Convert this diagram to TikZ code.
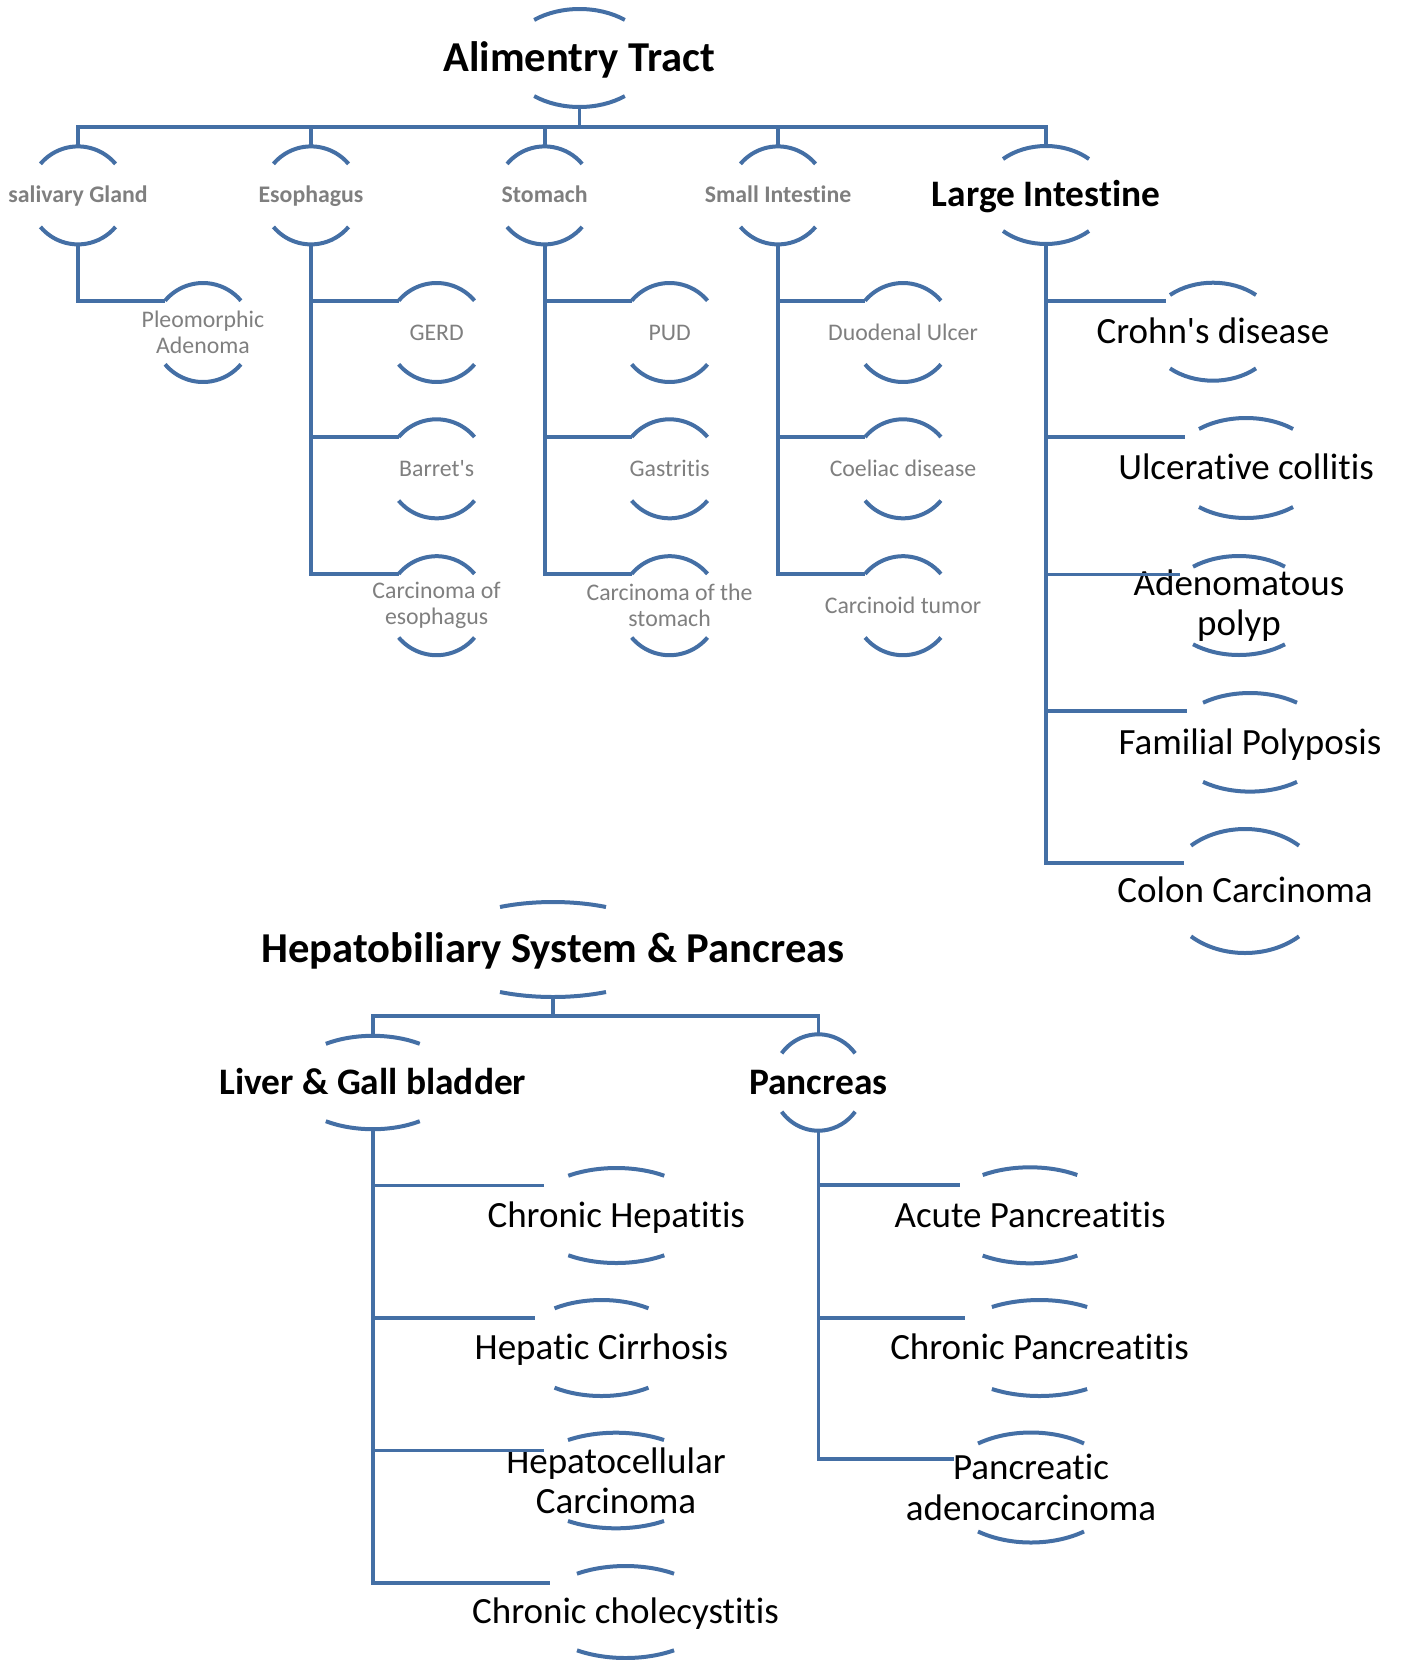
\documentclass[tikz,border=0pt]{standalone}
\usepackage{fontspec}
\setmainfont{Carlito}[Ligatures=NoCommon]
\definecolor{linkblue}{RGB}{68,111,165}
\definecolor{leafgray}{RGB}{127,127,127}
\tikzset{
  link/.style={draw=linkblue,line width=1.9pt},
  arcline/.style={draw=linkblue,line width=2pt},
  head/.style={inner sep=0,text height=13.46pt,text depth=0pt,font=\fontsize{21.3}{23}\selectfont\bfseries},
  big/.style={inner sep=0,text height=11.82pt,text depth=0pt,font=\fontsize{18.7}{20.5}\selectfont\bfseries},
  sub/.style={inner sep=0,text height=7.52pt,text depth=0pt,text=leafgray,font=\fontsize{11.9}{13}\selectfont\bfseries},
  leaf/.style={inner sep=0,text height=7.52pt,text depth=0pt,text=leafgray,font=\fontsize{11.9}{13}\selectfont},
  leaftwo/.style={inner sep=0,align=center,text=leafgray,font=\fontsize{11.9}{13}\selectfont},
  item/.style={inner sep=0,text height=11.69pt,text depth=0pt,font=\fontsize{18.5}{20.2}\selectfont},
  itemtwo/.style={inner sep=0,align=center,font=\fontsize{18.5}{20.2}\selectfont},
}
% #2 node, #3/#4 radii, #5 half span, #6 and #1 entry offsets
\newcommand{\brk}[6][31]{%
  \draw[arcline] ([shift={(90+#5:#3 and #4)}]#2.center) arc[start angle=90+#5,end angle=90-#5,x radius=#3,y radius=#4];
  \draw[arcline] ([shift={(270-#5:#3 and #4)}]#2.center) arc[start angle=270-#5,end angle=270+#5,x radius=#3,y radius=#4];
  \coordinate (#2-top) at ([shift={(0,#4)}]#2.center);
  \coordinate (#2-bot) at ([shift={(0,-#4)}]#2.center);
  \coordinate (#2-in) at ([shift={(-#6,#1)}]#2.center);
}

\begin{document}
\begin{tikzpicture}[x=0.5pt,y=0.5pt]
\useasboundingbox (0,0) rectangle (1402,-1660);

\node (tract) [head] at (579.5,-58) {Alimentry Tract};
\node (sal) [sub] at (78,-195.4) {salivary Gland};
\node (esoph) [sub] at (311,-195.4) {Esophagus};
\node (stom) [sub] at (544.6,-195.4) {Stomach};
\node (smallint) [sub] at (778,-195.4) {Small Intestine};
\node (largeint) [big] at (1046,-195) {Large Intestine};

\node (pleo) [leaftwo] at (203,-332.5) {Pleomorphic\\Adenoma};
\node (gerd) [leaf] at (436.6,-332.5) {GERD};
\node (barret) [leaf] at (436.6,-468.8) {Barret\textquotesingle s};
\node (carcesoph) [leaftwo] at (436.6,-605.7) {Carcinoma of\\esophagus};
\node (pud) [leaf] at (669.6,-332.5) {PUD};
\node (gastr) [leaf] at (669.6,-468.8) {Gastritis};
\node (carcstom) [leaftwo] at (669.6,-605.7) {Carcinoma of the\\stomach};
\node (duod) [leaf] at (903,-332.5) {Duodenal Ulcer};
\node (coeliac) [leaf] at (903,-468.8) {Coeliac disease};
\node (carcinoid) [leaf] at (903,-605.7) {Carcinoid tumor};

\node (crohn) [item] at (1213,-331.7) {Crohn\textquotesingle s disease};
\node (ulc) [item] at (1246,-468) {Ulcerative collitis};
\node (aden) [itemtwo] at (1239,-605.5) {Adenomatous\\polyp};
\node (famil) [item] at (1250,-742.3) {Familial Polyposis};
\node (colon) [item] at (1245,-891) {Colon Carcinoma};

\node (hepato) [head] at (553,-949.5) {Hepatobiliary System \& Pancreas};
\node (liver) [big] at (372.8,-1082.5) {Liver \& Gall bladder};
\node (panc) [big] at (818.4,-1082.5) {Pancreas};

\node (chrhep) [item] at (616.3,-1215.5) {Chronic Hepatitis};
\node (cirr) [item] at (601.5,-1348) {Hepatic Cirrhosis};
\node (hcc) [itemtwo] at (616,-1480.5) {Hepatocellular\\Carcinoma};
\node (chol) [item] at (625.5,-1612) {Chronic cholecystitis};
\node (acute) [item] at (1030,-1215.3) {Acute Pancreatitis};
\node (chrpanc) [item] at (1039.5,-1348) {Chronic Pancreatitis};
\node (adeno) [itemtwo] at (1031,-1487.5) {Pancreatic\\adenocarcinoma};

\brk{tract}{72}{49}{39}{0}
\foreach \n in {sal,esoph,stom,smallint} {\brk{\n}{49}{49}{50}{0}}
\brk{largeint}{63.4}{49}{42.7}{0}
\foreach \n in {pleo,gerd,barret,carcesoph,pud,gastr,carcstom,duod,coeliac,carcinoid} {\brk[31.8]{\n}{49.5}{49.5}{50}{37.9}}
\brk{crohn}{64.9}{49}{41.5}{47.5}
\brk{ulc}{75.2}{50}{38.7}{61}
\brk{aden}{74}{49.5}{38.4}{59}
\brk{famil}{78.8}{49.3}{36.6}{63}
\brk[28]{colon}{79.2}{62}{43}{61}
\brk{hepato}{118.8}{47.5}{26.5}{0}
\brk{liver}{84}{46.7}{34}{0}
\brk{panc}{46.2}{48.2}{52.7}{0}
\brk[30]{chrhep}{87.9}{47.5}{33.1}{72.4}
\brk[30]{cirr}{83.6}{48}{34.2}{66.3}
\brk[30]{hcc}{90.4}{47.8}{32.1}{72}
\brk[29.3]{chol}{87.7}{46}{33.6}{76}
\brk[30]{acute}{87.1}{48}{32.9}{69.8}
\brk[30]{chrpanc}{91.7}{48}{31.3}{74.2}
\brk[28.5]{adeno}{88.3}{55}{36.9}{77.4}

\coordinate (tract-bus) at (579.5,-126.7);
\draw[link] (tract-bot) -- (tract-bus);
\foreach \n in {sal,esoph,stom,smallint,largeint} \draw[link] (tract-bus) -| (\n-top);
\draw[link] (sal-bot) |- (pleo-in);
\foreach \n in {gerd,barret,carcesoph} \draw[link] (esoph-bot) |- (\n-in);
\foreach \n in {pud,gastr,carcstom} \draw[link] (stom-bot) |- (\n-in);
\foreach \n in {duod,coeliac,carcinoid} \draw[link] (smallint-bot) |- (\n-in);
\foreach \n in {crohn,ulc,aden,famil,colon} \draw[link] (largeint-bot) |- (\n-in);

\coordinate (hepato-bus) at (553,-1016);
\draw[link] (hepato-bot) -- (hepato-bus);
\foreach \n in {liver,panc} \draw[link] (hepato-bus) -| (\n-top);
\foreach \n in {chrhep,cirr,hcc,chol} \draw[link] (liver-bot) |- (\n-in);
\foreach \n in {acute,chrpanc,adeno} \draw[link] (panc-bot) |- (\n-in);
\end{tikzpicture}
\end{document}
